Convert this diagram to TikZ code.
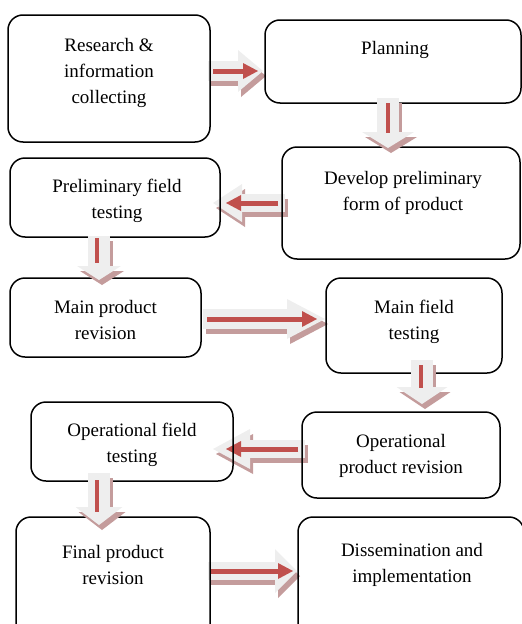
\documentclass[tikz,border=0pt]{standalone}
\usepackage{fontspec}
\setmainfont{Liberation Serif}
\usetikzlibrary{arrows.meta,calc}
\definecolor{rot}{HTML}{C0504D}
\definecolor{schatten}{HTML}{C49C9C}
\definecolor{hell}{HTML}{EEEEEE}
\tikzset{
  kasten/.style={draw=black,line width=1.5pt,rounded corners=15pt},
  txt/.style={align=center,font=\fontsize{19}{26}\selectfont,inner sep=0pt,yshift=-2pt},
  block/.style n args={3}{line width=#1pt,-{Triangle[length=#2pt,width=#3pt,line width=0pt]}},
  pfhell/.style={draw=hell},
  pfschatten/.style={draw=schatten,transform canvas={xshift=3pt,yshift=-5pt}},
  pfrot/.style={draw=rot,line width=5pt,-{Triangle[length=15pt,width=16pt,line width=0pt]}},
  pfbalken/.style={draw=rot,line width=4pt},
}

\begin{document}
\begin{tikzpicture}[x=1pt,y=-1pt]
  \useasboundingbox (0,0) rectangle (522,624);
  \clip (0,0) rectangle (522,624);
  % Blockpfeile waagrecht (unter den Kaesten)
  \coordinate (a1) at (208,71);  \coordinate (b1) at (263,71);
  \coordinate (a3) at (285,203); \coordinate (b3) at (213,203);
  \coordinate (a5) at (203,319); \coordinate (b5) at (325,319);
  \coordinate (a7) at (305,449); \coordinate (b7) at (213,449);
  \coordinate (a9) at (208,571); \coordinate (b9) at (297,571);
  \draw[pfschatten,block={20}{25}{42}] (a1) -- (b1);
  \draw[pfhell,block={20}{25}{42}] (a1) -- (b1);
  \draw[pfrot] (213,71) -- (258,71);
  \draw[pfschatten,block={18}{29}{38}] (a3) -- (b3);
  \draw[pfhell,block={18}{29}{38}] (a3) -- (b3);
  \draw[pfrot] (278,203) -- (226,203);
  \draw[pfschatten,block={20}{38}{40}] (a5) -- (b5);
  \draw[pfhell,block={20}{38}{40}] (a5) -- (b5);
  \draw[pfrot] (207,319) -- (317,319);
  \draw[pfschatten,block={18}{37}{40}] (a7) -- (b7);
  \draw[pfhell,block={18}{37}{40}] (a7) -- (b7);
  \draw[pfrot] (298,449) -- (226,449);
  \draw[pfschatten,block={18}{22}{44}] (a9) -- (b9);
  \draw[pfhell,block={18}{22}{44}] (a9) -- (b9);
  \draw[pfrot] (210,571) -- (293,571);
  % Kaesten
  \node[kasten,minimum width=202pt,minimum height=127pt] (recherche) at (109,78.5) {};
  \node[kasten,minimum width=256pt,minimum height=83pt] (planung) at (393,61.5) {};
  \node[kasten,minimum width=238pt,minimum height=112pt] (entwurf) at (401,203) {};
  \node[kasten,minimum width=210pt,minimum height=79pt] (vortest) at (115,197.5) {};
  \node[kasten,minimum width=191pt,minimum height=79pt] (hauptrev) at (105.5,317.5) {};
  \node[kasten,minimum width=176pt,minimum height=95pt] (haupttest) at (414,325.5) {};
  \node[kasten,minimum width=202pt,minimum height=79pt] (opertest) at (132,441.5) {};
  \node[kasten,minimum width=198pt,minimum height=86pt] (operrev) at (401,455) {};
  \node[kasten,minimum width=194pt,minimum height=133pt] (endrev) at (113,583.5) {};
  \node[kasten,minimum width=226pt,minimum height=133pt] (verbreitung) at (411,583.5) {};
  % Blockpfeile senkrecht (ueber den Kaesten)
  \coordinate (a2) at (388,98);  \coordinate (b2) at (388,148);
  \coordinate (a4) at (99,236);  \coordinate (b4) at (99,280);
  \coordinate (a6) at (422,360); \coordinate (b6) at (422,404);
  \coordinate (a8) at (99,473);  \coordinate (b8) at (99,525);
  \draw[pfschatten,block={22}{16}{52}] (a2) -- (b2);
  \draw[pfhell,block={22}{16}{52}] (a2) -- (b2);
  \draw[pfbalken] (388,103) -- (388,133);
  \draw[pfschatten,block={22}{14}{44}] (a4) -- (b4);
  \draw[pfhell,block={22}{14}{44}] (a4) -- (b4);
  \draw[pfbalken] (97,238) -- (97,263);
  \draw[pfschatten,block={22}{17}{51}] (a6) -- (b6);
  \draw[pfhell,block={22}{17}{51}] (a6) -- (b6);
  \draw[pfbalken] (421,365) -- (421,388);
  \draw[pfschatten,block={22}{18}{47}] (a8) -- (b8);
  \draw[pfhell,block={22}{18}{47}] (a8) -- (b8);
  \draw[pfbalken] (97,480) -- (97,512);
  % Beschriftungen
  \node[txt] (recherche-t) at (109,71) {Research \&\\information\\collecting};
  \node[txt] (planung-t) at (395,48) {Planning};
  \node[txt] (entwurf-t) at (403,190.5) {Develop preliminary\\form of product};
  \node[txt] (vortest-t) at (117,199) {Preliminary field\\testing};
  \node[txt] (hauptrev-t) at (105.5,318) {Main product\\revision};
  \node[txt] (haupttest-t) at (414,319.5) {Main field\\testing};
  \node[txt] (opertest-t) at (132,443) {Operational field\\testing};
  \node[txt] (operrev-t) at (401,453.5) {Operational\\product revision};
  \node[txt] (endrev-t) at (113,562.5) {Final product\\revision};
  \node[txt] (verbreitung-t) at (412,562.5) {Dissemination and\\implementation};
\end{tikzpicture}
\end{document}
